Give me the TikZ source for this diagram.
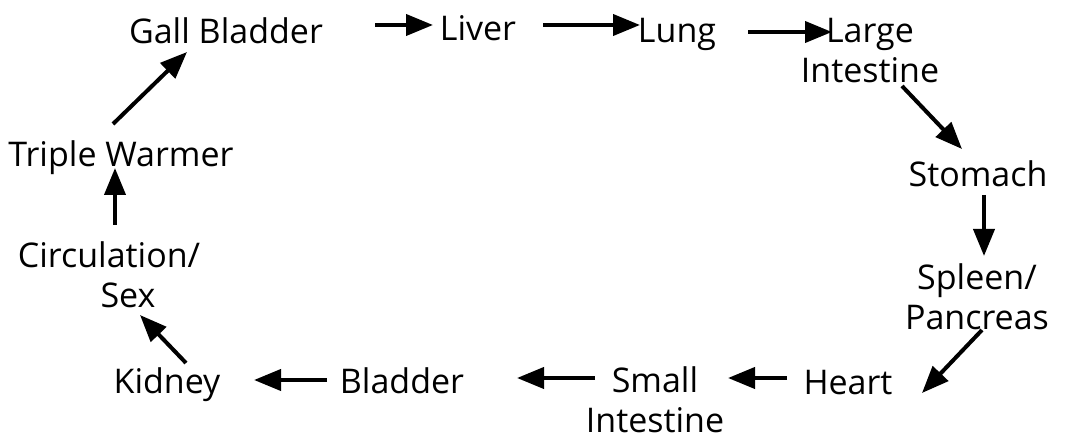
\documentclass[tikz,border=0pt]{standalone}
\usepackage{fontspec}
\setmainfont{Open Sans}
\usetikzlibrary{arrows.meta}
\begin{document}
\begin{tikzpicture}[x=1pt,y=-1pt,
  lbl/.style={anchor=base,inner sep=0pt,align=center,font=\fontsize{34}{40}\selectfont},
  arr/.style={line width=4pt,-{Triangle[length=27pt,width=21pt]}}]
\useasboundingbox (0,0) rectangle (1072,438);
\node[lbl] (gb) at (226,44) {Gall Bladder};
\node[lbl] (liver) at (478,41) {Liver};
\node[lbl] (lung) at (677,43) {Lung};
\node[lbl] (large) at (870,83) {Large\\Intestine};
\node[lbl] (stomach) at (978,187) {Stomach};
\node[lbl] (spleen) at (977,330) {Spleen/\\Pancreas};
\node[lbl] (heart) at (848,395) {Heart};
\node[lbl,text depth=0pt] (small) at (655,433) {Small\\Intestine};
\node[lbl] (bladder) at (402,394) {Bladder};
\node[lbl] (kidney) at (167,394) {Kidney};
\node[lbl] (circ) at (109,308) {Circulation/\\\hspace*{38pt}Sex};
\node[lbl] (tw) at (121,167) {Triple Warmer};
\draw[arr] ([shift={(149,-19)}]gb.base) -- ([shift={(-45,-16)}]liver.base);
\draw[arr] ([shift={(65,-16)}]liver.base) -- ([shift={(-37,-18)}]lung.base);
\draw[arr] ([shift={(71,-11)}]lung.base) -- ([shift={(-38,-51)}]large.base);
\draw[arr] ([shift={(32,3)}]large.base) -- ([shift={(-16,-38)}]stomach.base);
\draw[arr] ([shift={(6,8)}]stomach.base) -- ([shift={(7,-74)}]spleen.base);
\draw[arr] ([shift={(5,0)}]spleen.base) -- ([shift={(74,-2)}]heart.base);
\draw[arr] ([shift={(-61,-17)}]heart.base) -- ([shift={(73,-55)}]small.base);
\draw[arr] ([shift={(-60,-55)}]small.base) -- ([shift={(115,-16)}]bladder.base);
\draw[arr] ([shift={(-75,-14)}]bladder.base) -- ([shift={(87,-14)}]kidney.base);
\draw[arr] ([shift={(19,-31)}]kidney.base) -- ([shift={(31,7)}]circ.base);
\draw[arr] ([shift={(6,-83)}]circ.base) -- ([shift={(-6,1)}]tw.base);
\draw[arr] ([shift={(-8,-43)}]tw.base) -- ([shift={(-39,8)}]gb.base);
\end{tikzpicture}
\end{document}
